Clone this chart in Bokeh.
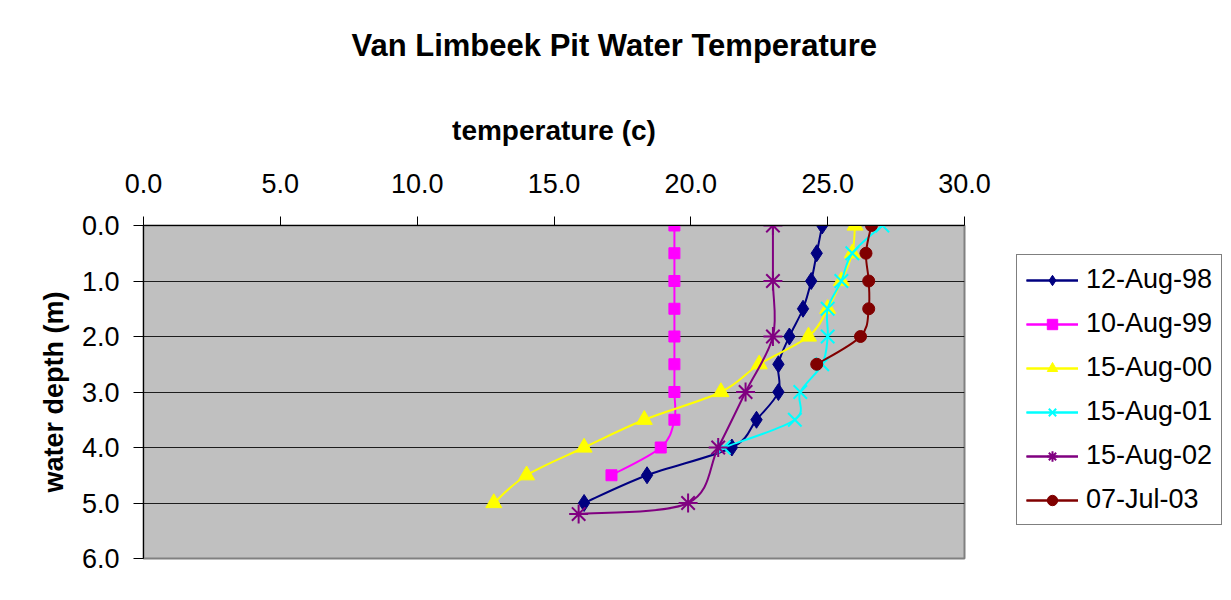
import numpy as np
from bokeh.plotting import figure
from bokeh.models import (Range1d, FixedTicker, NumeralTickFormatter, Legend, LegendItem,
                          ColumnDataSource, Title)
from bokeh.embed import file_html
from bokeh.resources import INLINE

# ---------------- data ----------------
x_ticks = [0, 5, 10, 15, 20, 25, 30]
y_ticks = [0, 1, 2, 3, 4, 5, 6]

labels = ["12-Aug-98", "10-Aug-99", "15-Aug-00", "15-Aug-01", "15-Aug-02", "07-Jul-03"]

depth_98 = [0.0, 0.5, 1.0, 1.5, 2.0, 2.5, 3.0, 3.5, 4.0, 4.5, 5.0]
temp_98 = [24.8, 24.6, 24.4, 24.1, 23.6, 23.2, 23.2, 22.4, 21.5, 18.4, 16.1]

depth_99 = [0.0, 0.5, 1.0, 1.5, 2.0, 2.5, 3.0, 3.5, 4.0, 4.5]
temp_99 = [19.4, 19.4, 19.4, 19.4, 19.4, 19.4, 19.4, 19.4, 18.9, 17.1]

depth_00 = [0.0, 0.5, 1.0, 1.5, 2.0, 2.5, 3.0, 3.5, 4.0, 4.5, 5.0]
temp_00 = [26.0, 25.9, 25.5, 25.0, 24.3, 22.5, 21.1, 18.3, 16.1, 14.0, 12.8]

depth_01 = [0.0, 0.5, 1.0, 1.5, 2.0, 2.5, 3.0, 3.5, 4.0]
temp_01 = [27.0, 25.9, 25.5, 25.0, 25.0, 24.8, 24.0, 23.8, 21.2]

depth_02 = [0.0, 1.0, 2.0, 3.0, 4.0, 5.0, 5.2]
temp_02 = [23.0, 23.0, 23.0, 22.0, 21.0, 19.9, 15.9]

depth_03 = [0.0, 0.5, 1.0, 1.5, 2.0, 2.5]
temp_03 = [26.6, 26.4, 26.5, 26.5, 26.2, 24.6]

series = [
    (labels[0], temp_98, depth_98, "#000080", "diamond", 17),
    (labels[1], temp_99, depth_99, "#FF00FF", "square", 11),
    (labels[2], temp_00, depth_00, "#FFFF00", "triangle", 16),
    (labels[3], temp_01, depth_01, "#00FFFF", "x", 19),
    (labels[4], temp_02, depth_02, "#800080", "asterisk", 19),
    (labels[5], temp_03, depth_03, "#800000", "circle", 12),
]

FONT = "Liberation Sans"


def smooth_segments(xs, ys):
    """Catmull-Rom style Bezier segments through the data points (Excel smoothing)."""
    x = np.asarray(xs, dtype=float)
    y = np.asarray(ys, dtype=float)
    xp = np.concatenate([[x[0]], x, [x[-1]]])
    yp = np.concatenate([[y[0]], y, [y[-1]]])
    n = len(x)
    d = dict(x0=[], y0=[], x1=[], y1=[], cx0=[], cy0=[], cx1=[], cy1=[])
    for i in range(n - 1):
        d["x0"].append(xp[i + 1]); d["y0"].append(yp[i + 1])
        d["x1"].append(xp[i + 2]); d["y1"].append(yp[i + 2])
        d["cx0"].append(xp[i + 1] + (xp[i + 2] - xp[i]) / 6.0)
        d["cy0"].append(yp[i + 1] + (yp[i + 2] - yp[i]) / 6.0)
        d["cx1"].append(xp[i + 2] - (xp[i + 3] - xp[i + 1]) / 6.0)
        d["cy1"].append(yp[i + 2] - (yp[i + 3] - yp[i + 1]) / 6.0)
    return d


p = figure(frame_width=821, frame_height=333, output_backend="svg", toolbar_location=None,
           x_range=Range1d(0, 30), y_range=Range1d(6, 0),
           x_axis_location="above",
           min_border_left=143, min_border_right=258, min_border_top=200, min_border_bottom=34)

p.background_fill_color = "#C0C0C0"
p.border_fill_color = "white"
p.outline_line_color = "#808080"
p.outline_line_width = 2

# title
p.title.text = "Van Limbeek Pit  Water Temperature"
p.title.text_font = FONT
p.title.text_font_size = "31px"
p.title.text_font_style = "bold"
p.title.text_color = "black"
p.title.align = "left"
p.title.offset = 208
p.title.standoff = 50

# empty spacer between the title and the axis
p.add_layout(Title(text=" ", text_font_size="1px", standoff=21), "above")

# x axis (top)
xa = p.xaxis[0]
xa.ticker = FixedTicker(ticks=x_ticks)
xa.formatter = NumeralTickFormatter(format="0.0")
xa.axis_label = "temperature (c)"
xa.axis_label_text_font = FONT
xa.axis_label_text_font_size = "28px"
xa.axis_label_text_font_style = "bold"
xa.axis_label_text_color = "black"
xa.axis_label_standoff = 25
xa.major_label_text_font = FONT
xa.major_label_text_font_size = "27px"
xa.major_label_text_color = "black"
xa.major_label_standoff = 24
xa.major_tick_in = 0
xa.major_tick_out = 9
xa.minor_tick_line_color = None
xa.axis_line_color = "black"
xa.major_tick_line_color = "black"

# y axis
ya = p.yaxis[0]
ya.ticker = FixedTicker(ticks=y_ticks)
ya.formatter = NumeralTickFormatter(format="0.0")
ya.axis_label = "water depth (m)"
ya.axis_label_text_font = FONT
ya.axis_label_text_font_size = "27px"
ya.axis_label_text_font_style = "bold"
ya.axis_label_text_color = "black"
ya.axis_label_standoff = 10
ya.major_label_text_font = FONT
ya.major_label_text_font_size = "27px"
ya.major_label_text_color = "black"
ya.major_label_standoff = 14
ya.major_tick_in = 0
ya.major_tick_out = 10
ya.minor_tick_line_color = None
ya.axis_line_color = "black"
ya.major_tick_line_color = "black"

p.xgrid.grid_line_color = None
p.ygrid.ticker = FixedTicker(ticks=y_ticks)
p.ygrid.grid_line_color = "black"
p.ygrid.grid_line_alpha = 0.85
p.ygrid.grid_line_width = 1

items = []
for name, xs, ys, color, marker, size in series:
    src = ColumnDataSource(smooth_segments(xs, ys))
    bz = p.bezier(x0="x0", y0="y0", x1="x1", y1="y1", cx0="cx0", cy0="cy0", cx1="cx1", cy1="cy1",
                  source=src, line_color=color, line_width=2)
    leg_line = p.line(x=[np.nan], y=[np.nan], line_color=color, line_width=2)
    sc = p.scatter(x=xs, y=ys, marker=marker, size=size, fill_color=color,
                   line_color=color, line_width=2 if marker in ("x", "asterisk") else 1)
    items.append(LegendItem(label=name, renderers=[bz, leg_line, sc]))

legend = Legend(items=items, location=(52, 33))
legend.label_text_font = FONT
legend.label_text_font_size = "27px"
legend.label_text_color = "black"
legend.glyph_width = 52
legend.glyph_height = 26
legend.label_height = 26
legend.label_standoff = 8
legend.spacing = 13
legend.padding = 9
legend.margin = 0
legend.border_line_color = "black"
legend.border_line_width = 1
legend.background_fill_color = "white"
legend.background_fill_alpha = 1
p.add_layout(legend, "right")

open("out.html", "w").write(file_html(p, INLINE))
